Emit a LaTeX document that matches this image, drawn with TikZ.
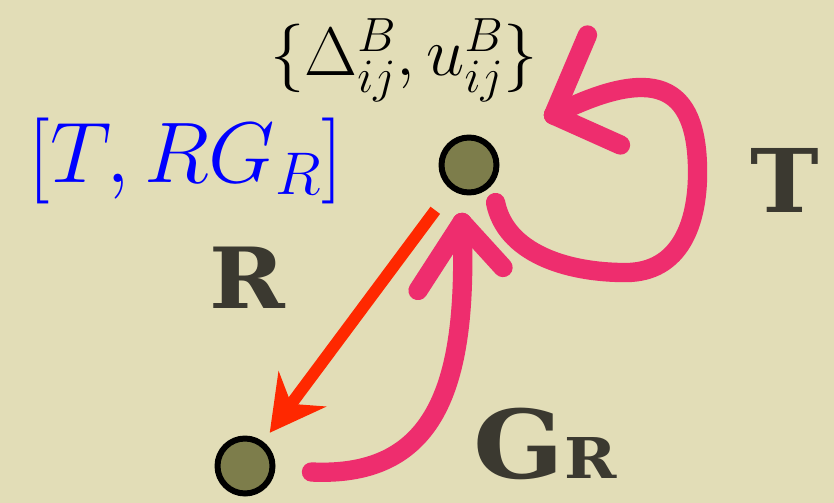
\RequirePackage{fix-cm}
\documentclass[tikz,border=0pt]{standalone}
\usepackage{fontspec}
\newfontfamily\capfont{DejaVu Serif}
\usetikzlibrary{arrows.meta, calc}

\definecolor{paper}{RGB}{226,221,183}
\definecolor{dotfill}{RGB}{125,125,75}
\definecolor{inkpink}{RGB}{238,45,110}
\definecolor{inkred}{RGB}{255,40,0}
\definecolor{inkgray}{RGB}{59,57,48}

\begin{document}
\begin{tikzpicture}[
    x=0.02cm, y=-0.02cm,
    site/.style={circle, draw=black, line width=3.4pt, fill=dotfill, minimum size=1.1cm, inner sep=0pt},
    op/.style={text=inkgray, font=\capfont\bfseries\fontsize{#1}{#1}\selectfont},
    hop/.style={draw=inkred, line width=6.8pt, -{Stealth[length=1.1cm, width=1.2cm, inset=0.38cm, line width=0pt]}, shorten <=0.52cm, shorten >=0.22cm},
    stroke/.style={draw=inkpink, line width=11pt, line cap=round, line join=round}
]
\fill [paper] (0,0) rectangle (834,503);
\useasboundingbox (0,0) rectangle (834,503);

\node [site] (upper) at (469,165) {};
\node [site] (lower) at (245,466) {};

\node [anchor=base, font=\fontsize{39}{46}\selectfont] (pairs) at (404,76) {$\{\Delta^B_{ij},u^B_{ij}\}$};
\node [anchor=base, text=blue, font=\fontsize{49}{58}\selectfont] (comm) at (186,182) {$[T,RG_R]$};
\node [op=48, anchor=base] (Rlabel) at (247,308) {\scalebox{1.08}[1]{R}};
\node [op=50, anchor=base] (Tlabel) at (785,213) {\scalebox{1.05}[1]{T}};
\node [op=54, anchor=base] (Glabel) at (545,478) {\scalebox{1.12}[1]{G{\fontsize{32}{32}\selectfont R}}};

\coordinate (gtip) at ($(upper.south)+(-7,27)$);
\coordinate (ttip) at ($(upper.east)+(54,-50)$);

\path [hop] (upper) -- (lower);

\draw [stroke] ($(lower.east)+(36,6)$) .. controls +(128,6) and +(6,158) .. (gtip);
\draw [stroke] (gtip) -- ++(-44,68);
\draw [stroke] (gtip) -- ++(41,45);

\draw [stroke] ($(upper.south east)+(5,16)$) .. controls +(10,50) and +(-60,0) .. ++(130,70)
    .. controls +(55,0) and +(0,50) .. ++(72,-100)
    .. controls +(0,-90) and +(100,-50) .. (ttip);
\draw [stroke] (ttip) -- ++(34,-80);
\draw [stroke] (ttip) -- ++(67,30);
\end{tikzpicture}
\end{document}
